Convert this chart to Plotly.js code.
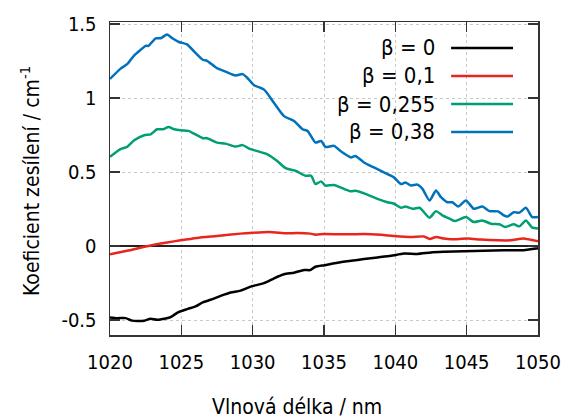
<!DOCTYPE html>
<html><head><meta charset="utf-8">
<script src="https://cdn.plot.ly/plotly-3.0.1.min.js"></script>
<style>html,body{margin:0;padding:0;background:#fff}#chart{width:569px;height:420px}</style>
</head><body><div id="chart"></div>
<script>
// ---- data ----
const seriesNames = ["β = 0", "β = 0,1", "β = 0,255", "β = 0,38"];
const seriesColors = ["#000000", "#e8261c", "#009e73", "#0072bd"];

const x0 = [1020.0,1020.5,1021.1,1021.55,1022.4,1022.85,1023.3,1023.9,1024.25,1024.8,1025.4,1026.0,1026.5,1027.05,1027.75,1028.45,1029.15,1029.85,1030.8,1031.5,1032.2,1032.9,1033.6,1034.05,1034.4,1035.05,1035.95,1036.9,1037.8,1038.75,1039.7,1040.6,1041.55,1042.5,1043.4,1044.8,1046.2,1047.6,1049.0,1049.85,1050.0];
const y0 = [-0.481,-0.486,-0.486,-0.503,-0.503,-0.49,-0.497,-0.488,-0.479,-0.445,-0.425,-0.407,-0.38,-0.362,-0.336,-0.313,-0.30,-0.273,-0.25,-0.217,-0.19,-0.179,-0.161,-0.161,-0.139,-0.128,-0.112,-0.099,-0.087,-0.076,-0.065,-0.049,-0.052,-0.042,-0.038,-0.034,-0.031,-0.027,-0.027,-0.015,-0.013];

const x1 = [1020.0,1021.2,1022.6,1024.0,1024.95,1026.1,1027.5,1029.15,1029.85,1031.15,1032.4,1033.1,1034.05,1034.4,1035.0,1036.4,1037.8,1039.0,1039.9,1041.1,1042.0,1042.4,1042.85,1043.4,1043.9,1045.1,1046.0,1047.2,1048.1,1049.0,1049.85,1050.0];
const y1 = [-0.054,-0.031,0.0,0.025,0.04,0.056,0.069,0.085,0.09,0.096,0.087,0.089,0.085,0.078,0.082,0.08,0.083,0.077,0.069,0.062,0.066,0.049,0.062,0.052,0.047,0.052,0.045,0.04,0.04,0.052,0.036,0.036];

const x2 = [1020.0,1020.74,1021.2,1021.7,1022.4,1022.85,1023.3,1023.7,1024.1,1024.5,1024.95,1025.5,1025.9,1026.5,1026.8,1027.5,1028.1,1028.8,1029.3,1029.75,1030.2,1031.0,1031.7,1032.3,1033.0,1033.7,1034.1,1034.4,1034.8,1035.1,1035.7,1036.4,1036.9,1037.2,1037.9,1038.75,1039.45,1039.9,1040.4,1040.7,1041.2,1041.7,1041.9,1042.4,1042.85,1043.3,1043.8,1044.2,1044.95,1045.5,1046.1,1046.7,1047.3,1047.7,1048.3,1048.7,1049.15,1049.6,1050.0];
const y2 = [0.604,0.656,0.671,0.716,0.75,0.756,0.79,0.79,0.805,0.79,0.783,0.779,0.76,0.73,0.73,0.70,0.693,0.673,0.683,0.66,0.646,0.622,0.577,0.528,0.51,0.476,0.476,0.42,0.438,0.409,0.414,0.387,0.371,0.375,0.354,0.32,0.297,0.287,0.26,0.268,0.253,0.26,0.242,0.193,0.237,0.208,0.186,0.17,0.197,0.163,0.174,0.152,0.148,0.13,0.148,0.134,0.174,0.125,0.12];

const x3 = [1020.0,1020.74,1021.2,1021.7,1022.15,1022.5,1022.7,1023.2,1023.55,1024.0,1024.37,1024.83,1025.4,1025.9,1026.5,1026.8,1027.5,1028.1,1028.8,1029.3,1029.6,1030.1,1030.8,1031.5,1032.2,1032.9,1033.5,1033.85,1034.4,1034.8,1035.1,1035.7,1036.2,1036.9,1037.2,1037.8,1038.5,1039.2,1039.9,1040.4,1040.7,1041.1,1041.55,1041.9,1042.4,1042.85,1043.2,1043.65,1044.0,1044.4,1044.95,1045.5,1046.1,1046.6,1047.2,1047.6,1047.85,1048.3,1048.7,1049.15,1049.6,1050.0];
const y3 = [1.13,1.20,1.23,1.29,1.327,1.354,1.354,1.405,1.405,1.43,1.405,1.38,1.364,1.315,1.26,1.253,1.203,1.18,1.154,1.163,1.14,1.088,1.058,0.968,0.879,0.846,0.79,0.779,0.70,0.711,0.671,0.678,0.64,0.60,0.61,0.566,0.532,0.499,0.465,0.42,0.43,0.41,0.416,0.387,0.309,0.376,0.331,0.297,0.297,0.268,0.309,0.253,0.268,0.237,0.235,0.208,0.20,0.23,0.227,0.26,0.197,0.197];

const xTickVals = [1020,1025,1030,1035,1040,1045,1050];
const xTickText = ["1020","1025","1030","1035","1040","1045","1050"];
const yTickVals = [-0.5,0,0.5,1,1.5];
const yTickText = ["-0.5","0","0.5","1","1.5"];
const xTitle = "Vlnová délka / nm";
const yTitle = "Koeficient zesílení / cm<sup>-1</sup>";

// ---- chart ----
const FONT = "'DejaVu Sans Condensed', 'DejaVu Sans', sans-serif";
const xs = [x0, x1, x2, x3], ys = [y0, y1, y2, y3];
const traces = xs.map((x, i) => ({
  x: x, y: ys[i], type: "scatter", mode: "lines", name: seriesNames[i],
  line: {color: seriesColors[i], width: 2.5, shape: "spline", smoothing: 0.6},
  showlegend: false, hoverinfo: "skip"
}));

const legendY = [0.917, 0.8275, 0.738, 0.6486];
const annotations = seriesNames.map((n, i) => ({
  xref: "paper", yref: "paper", x: 0.764, y: legendY[i], xanchor: "right", yanchor: "middle",
  text: n, showarrow: false, font: {family: FONT, size: 22, color: "#000"}
}));
annotations.push({xref: "paper", yref: "paper", x: 0.438, y: -0.23, xanchor: "center", yanchor: "middle",
  text: xTitle, showarrow: false, font: {family: FONT, size: 21, color: "#000"}});
annotations.push({xref: "paper", yref: "paper", x: -0.187, y: 0.492, xanchor: "center", yanchor: "middle",
  text: yTitle, textangle: -90, showarrow: false, font: {family: FONT, size: 21, color: "#000"}});

const shapes = seriesColors.map((c, i) => ({
  type: "line", xref: "paper", yref: "paper", x0: 0.797, x1: 0.9416, y0: legendY[i], y1: legendY[i],
  line: {color: c, width: 2.5}
}));

const axisCommon = {
  showline: true, linecolor: "#333", linewidth: 1.5, mirror: "ticks",
  ticks: "inside", ticklen: 10, tickwidth: 1.5, tickcolor: "#333",
  showgrid: true, gridcolor: "#c8c8c8", griddash: "dot", gridwidth: 1,
  tickfont: {family: FONT, size: 20, color: "#000"}, tickmode: "array"
};

const layout = {
  width: 569, height: 420,
  margin: {l: 110, r: 31, t: 22, b: 85},
  paper_bgcolor: "#fff", plot_bgcolor: "#fff",
  showlegend: false,
  xaxis: Object.assign({}, axisCommon, {range: [1020, 1050], tickvals: xTickVals, ticktext: xTickText, zeroline: false, ticklabelstandoff: 8}),
  yaxis: Object.assign({}, axisCommon, {range: [-0.6, 1.515], tickvals: yTickVals, ticktext: yTickText,
    zeroline: true, zerolinecolor: "#222", zerolinewidth: 1.5, ticklabelstandoff: 8}),
  annotations: annotations, shapes: shapes
};

Plotly.newPlot("chart", traces, layout, {staticPlot: true, displayModeBar: false});
</script></body></html>
